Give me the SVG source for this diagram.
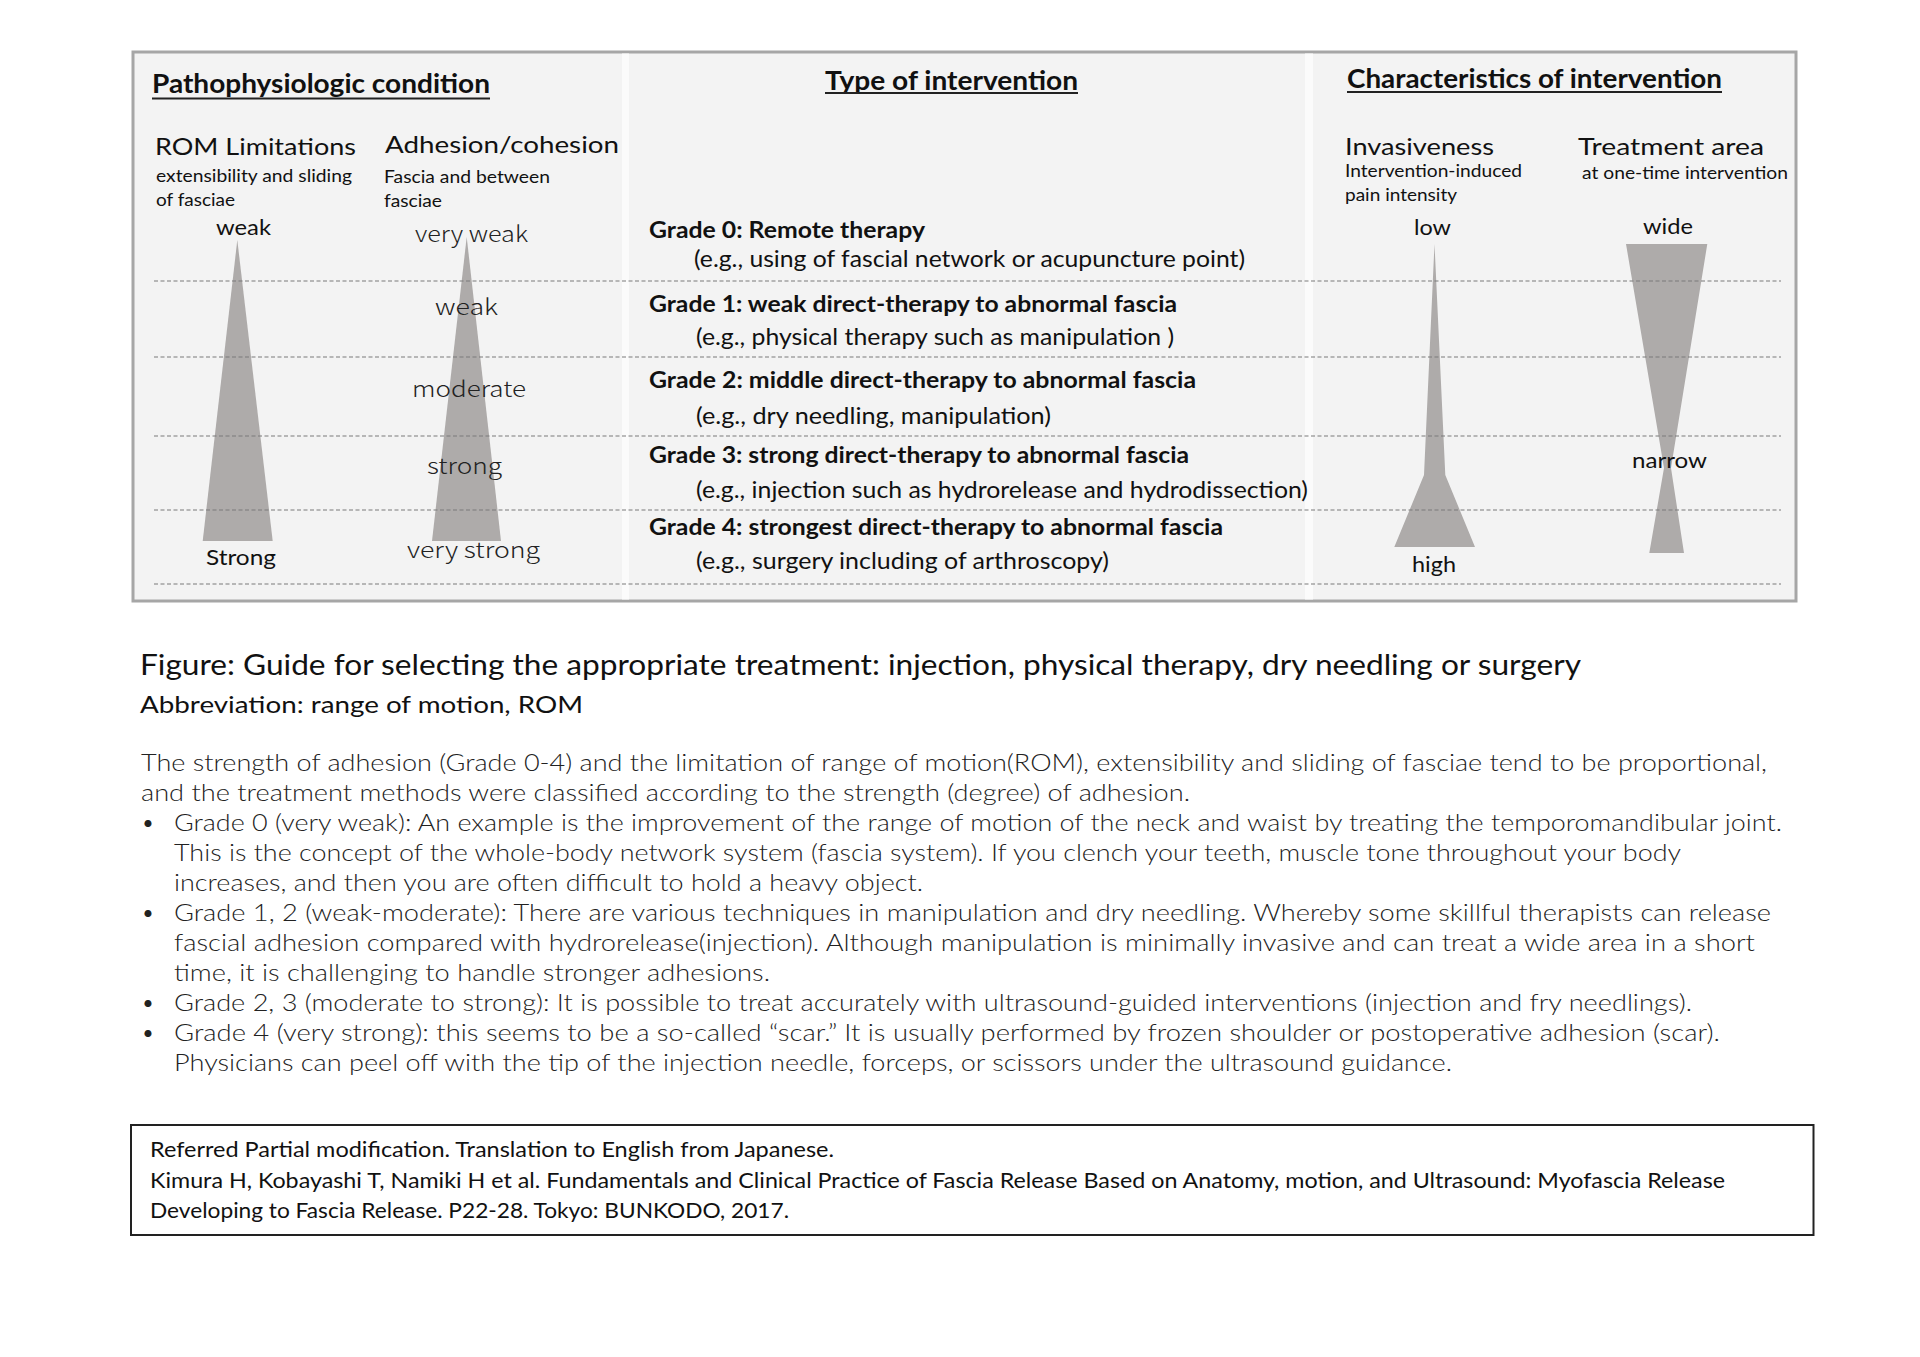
<svg xmlns="http://www.w3.org/2000/svg" width="1920" height="1357" viewBox="0 0 1920 1357">
<style>
.hd{font-family:Lato,"Liberation Sans",sans-serif;font-weight:700;fill:#111}
.sh{font-family:Lato,"Liberation Sans",sans-serif;font-weight:400;fill:#111}
.gr{font-family:Lato,"Liberation Sans",sans-serif;font-weight:700;fill:#111;font-size:23px}
.eg{font-family:Lato,"Liberation Sans",sans-serif;font-weight:400;fill:#111;font-size:23px}
.jp{font-family:"Noto Sans CJK JP","Noto Sans",sans-serif;font-weight:300;fill:#222}
.body{font-family:Lato,"Liberation Sans",sans-serif;font-weight:300;fill:#222;font-size:24px}
.ref{font-family:Lato,"Liberation Sans",sans-serif;font-weight:400;fill:#111;font-size:21px}
.shape{fill:#aeabaa}
.sep{stroke:#7a7a7a;stroke-width:1.2;stroke-dasharray:4 2.5;fill:none}
.ul{stroke:#222;stroke-width:2}
</style>
<rect width="1920" height="1357" fill="#ffffff"/>
<g id="main-panel">
<rect x="133" y="52" width="1663" height="549" fill="#f3f3f3" stroke="#a6a6a6" stroke-width="3"/>
<rect x="622" y="53.5" width="7" height="546" fill="#fbfbfb"/>
<rect x="1305" y="53.5" width="8" height="546" fill="#fbfbfb"/>
</g>
<g id="shapes">
<polygon class="shape" points="237.3,240 272.7,541 202.7,541"/>
<polygon class="shape" points="466.7,237 501,541 432,541"/>
<polygon class="shape" points="1434.5,244 1445.3,475 1475,547 1394.3,547 1424,475"/>
<polygon class="shape" points="1626,244 1707.3,244 1671,468 1684,553 1649.3,553 1664,468"/>
</g>
<g id="connectors">
<line class="sep" x1="154" y1="281" x2="1781" y2="281"/>
<line class="sep" x1="154" y1="357" x2="1781" y2="357"/>
<line class="sep" x1="154" y1="436" x2="1781" y2="436"/>
<line class="sep" x1="154" y1="510" x2="1781" y2="510"/>
<line class="sep" x1="154" y1="584" x2="1781" y2="584"/>
</g>
<g id="pathophysiologic">
<text class="hd" x="152" y="93" font-size="27" textLength="338" lengthAdjust="spacingAndGlyphs">Pathophysiologic condition</text>
<line class="ul" x1="152" y1="98.5" x2="490" y2="98.5"/>
<text class="sh" x="155" y="155" font-size="23" textLength="201" lengthAdjust="spacingAndGlyphs">ROM Limitations</text>
<text class="sh" x="156" y="182" font-size="17.5" textLength="196" lengthAdjust="spacingAndGlyphs">extensibility and sliding</text>
<text class="sh" x="156" y="206" font-size="17.5" textLength="79" lengthAdjust="spacingAndGlyphs">of fasciae</text>
<text class="sh" x="216" y="235" font-size="21" textLength="55" lengthAdjust="spacingAndGlyphs">weak</text>
<text class="sh" x="206" y="565" font-size="22" textLength="70" lengthAdjust="spacingAndGlyphs">Strong</text>
<text class="sh" x="385" y="153" font-size="23" textLength="234" lengthAdjust="spacingAndGlyphs">Adhesion/cohesion</text>
<text class="sh" x="384" y="183" font-size="17.5" textLength="166" lengthAdjust="spacingAndGlyphs">Fascia and between</text>
<text class="sh" x="384" y="207" font-size="17.5" textLength="58" lengthAdjust="spacingAndGlyphs">fasciae</text>
<text class="jp" x="415" y="242" font-size="22" textLength="113" lengthAdjust="spacingAndGlyphs">very weak</text>
<text class="jp" x="435" y="315" font-size="22" textLength="63" lengthAdjust="spacingAndGlyphs">weak</text>
<text class="jp" x="412" y="397" font-size="22" textLength="114" lengthAdjust="spacingAndGlyphs">moderate</text>
<text class="jp" x="427" y="474" font-size="22" textLength="75" lengthAdjust="spacingAndGlyphs">strong</text>
<text class="jp" x="407" y="558" font-size="22" textLength="133" lengthAdjust="spacingAndGlyphs">very strong</text>
</g>
<g id="intervention-types">
<text class="hd" x="825" y="90" font-size="26" textLength="253" lengthAdjust="spacingAndGlyphs">Type of intervention</text>
<line class="ul" x1="825" y1="93" x2="1078" y2="93"/>
<text class="gr" x="649" y="238" textLength="276" lengthAdjust="spacingAndGlyphs">Grade 0: Remote therapy</text>
<text class="eg" x="694" y="267" textLength="551" lengthAdjust="spacingAndGlyphs">(e.g., using of fascial network or acupuncture point)</text>
<text class="gr" x="649" y="312" textLength="528" lengthAdjust="spacingAndGlyphs">Grade 1: weak direct-therapy to abnormal fascia</text>
<text class="eg" x="696" y="345" textLength="478" lengthAdjust="spacingAndGlyphs">(e.g., physical therapy such as manipulation )</text>
<text class="gr" x="649" y="388" textLength="547" lengthAdjust="spacingAndGlyphs">Grade 2: middle direct-therapy to abnormal fascia</text>
<text class="eg" x="696" y="424" textLength="355" lengthAdjust="spacingAndGlyphs">(e.g., dry needling, manipulation)</text>
<text class="gr" x="649" y="463" textLength="540" lengthAdjust="spacingAndGlyphs">Grade 3: strong direct-therapy to abnormal fascia</text>
<text class="eg" x="696" y="498" textLength="612" lengthAdjust="spacingAndGlyphs">(e.g., injection such as hydrorelease and hydrodissection)</text>
<text class="gr" x="649" y="535" textLength="574" lengthAdjust="spacingAndGlyphs">Grade 4: strongest direct-therapy to abnormal fascia</text>
<text class="eg" x="696" y="569" textLength="413" lengthAdjust="spacingAndGlyphs">(e.g., surgery including of arthroscopy)</text>
</g>
<g id="characteristics">
<text class="hd" x="1347" y="88" font-size="26" textLength="375" lengthAdjust="spacingAndGlyphs">Characteristics of intervention</text>
<line class="ul" x1="1347" y1="92" x2="1722" y2="92"/>
<text class="sh" x="1345" y="155" font-size="23" textLength="149" lengthAdjust="spacingAndGlyphs">Invasiveness</text>
<text class="sh" x="1345" y="177" font-size="17.5" textLength="177" lengthAdjust="spacingAndGlyphs">Intervention-induced</text>
<text class="sh" x="1345" y="201" font-size="17.5" textLength="112" lengthAdjust="spacingAndGlyphs">pain intensity</text>
<text class="sh" x="1414" y="235" font-size="22" textLength="37" lengthAdjust="spacingAndGlyphs">low</text>
<text class="sh" x="1412" y="572" font-size="22" textLength="44" lengthAdjust="spacingAndGlyphs">high</text>
<text class="sh" x="1578" y="155" font-size="23" textLength="186" lengthAdjust="spacingAndGlyphs">Treatment area</text>
<text class="sh" x="1582" y="179" font-size="17.5" textLength="206" lengthAdjust="spacingAndGlyphs">at one-time intervention</text>
<text class="sh" x="1643" y="234" font-size="22" textLength="50" lengthAdjust="spacingAndGlyphs">wide</text>
<text class="sh" x="1632" y="468" font-size="22" textLength="75" lengthAdjust="spacingAndGlyphs">narrow</text>
</g>
<g id="caption">
<text class="sh" x="140" y="675" font-size="28" textLength="1441" lengthAdjust="spacingAndGlyphs">Figure: Guide for selecting the appropriate treatment: injection, physical therapy, dry needling or surgery</text>
<text class="sh" x="140" y="713" font-size="24" textLength="443" lengthAdjust="spacingAndGlyphs">Abbreviation: range of motion, ROM</text>
</g>
<g id="description">
<text class="body" x="141" y="771" textLength="1626" lengthAdjust="spacingAndGlyphs">The strength of adhesion (Grade 0-4) and the limitation of range of motion(ROM), extensibility and sliding of fasciae tend to be proportional,</text>
<text class="body" x="141" y="801" textLength="1049" lengthAdjust="spacingAndGlyphs">and the treatment methods were classified according to the strength (degree) of adhesion.</text>
<text class="body" x="141" y="831">•</text>
<text class="body" x="174" y="831" textLength="1608" lengthAdjust="spacingAndGlyphs">Grade 0 (very weak): An example is the improvement of the range of motion of the neck and waist by treating the temporomandibular joint.</text>
<text class="body" x="174" y="861" textLength="1507" lengthAdjust="spacingAndGlyphs">This is the concept of the whole-body network system (fascia system). If you clench your teeth, muscle tone throughout your body</text>
<text class="body" x="174" y="891" textLength="749" lengthAdjust="spacingAndGlyphs">increases, and then you are often difficult to hold a heavy object.</text>
<text class="body" x="141" y="921">•</text>
<text class="body" x="174" y="921" textLength="1597" lengthAdjust="spacingAndGlyphs">Grade 1, 2 (weak-moderate): There are various techniques in manipulation and dry needling. Whereby some skillful therapists can release</text>
<text class="body" x="174" y="951" textLength="1581" lengthAdjust="spacingAndGlyphs">fascial adhesion compared with hydrorelease(injection). Although manipulation is minimally invasive and can treat a wide area in a short</text>
<text class="body" x="174" y="981" textLength="596" lengthAdjust="spacingAndGlyphs">time, it is challenging to handle stronger adhesions.</text>
<text class="body" x="141" y="1011">•</text>
<text class="body" x="174" y="1011" textLength="1518" lengthAdjust="spacingAndGlyphs">Grade 2, 3 (moderate to strong): It is possible to treat accurately with ultrasound-guided interventions (injection and fry needlings).</text>
<text class="body" x="141" y="1041">•</text>
<text class="body" x="174" y="1041" textLength="1546" lengthAdjust="spacingAndGlyphs">Grade 4 (very strong): this seems to be a so-called “scar.” It is usually performed by frozen shoulder or postoperative adhesion (scar).</text>
<text class="body" x="174" y="1071" textLength="1278" lengthAdjust="spacingAndGlyphs">Physicians can peel off with the tip of the injection needle, forceps, or scissors under the ultrasound guidance.</text>
</g>
<g id="reference">
<rect x="131" y="1125" width="1682.5" height="110" fill="#ffffff" stroke="#222" stroke-width="2"/>
<text class="ref" x="150" y="1157" textLength="684" lengthAdjust="spacingAndGlyphs">Referred Partial modification. Translation to English from Japanese.</text>
<text class="ref" x="150" y="1188" textLength="1575" lengthAdjust="spacingAndGlyphs">Kimura H, Kobayashi T, Namiki H et al. Fundamentals and Clinical Practice of Fascia Release Based on Anatomy, motion, and Ultrasound: Myofascia Release</text>
<text class="ref" x="150" y="1218" textLength="639" lengthAdjust="spacingAndGlyphs">Developing to Fascia Release. P22-28. Tokyo: BUNKODO, 2017.</text>
</g>
</svg>
